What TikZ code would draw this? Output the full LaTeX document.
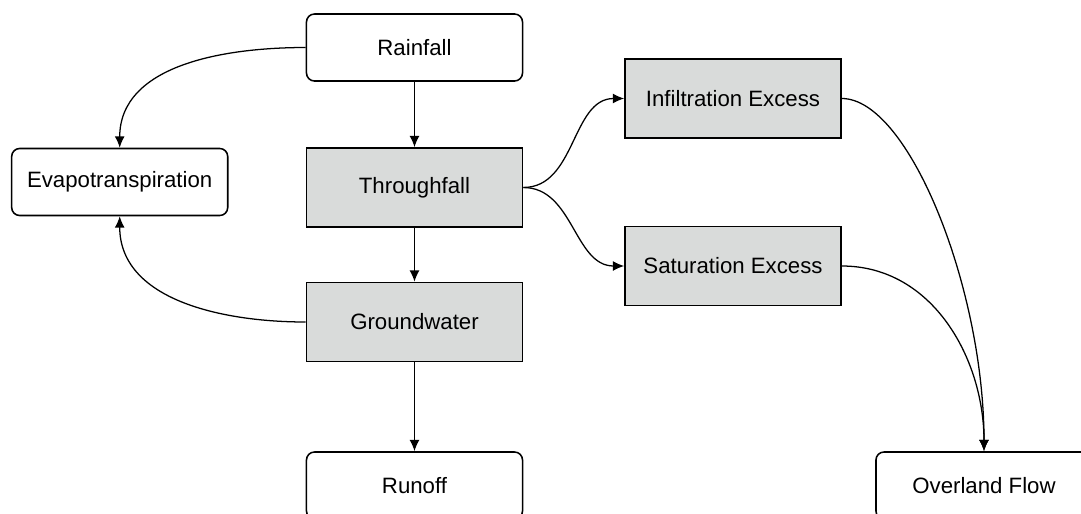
\documentclass[tikz,border=0pt]{standalone}
\usepackage{fontspec}
\setmainfont{Liberation Sans}
\usetikzlibrary{arrows.meta}
\definecolor{boxgray}{HTML}{D9DBDA}

\begin{document}
\begin{tikzpicture}[x=0.025cm, y=-0.025cm,
    whitebox/.style={draw, line width=1.1pt, rounded corners=0.2cm, minimum width=5.4cm,
        minimum height=1.675cm, inner sep=0pt, font=\fontsize{15.8}{18}\selectfont},
    graybox/.style={whitebox, sharp corners, fill=boxgray, minimum height=1.975cm},
    flow/.style={-{Latex[length=8pt,width=7pt]}, line width=0.9pt}]
    \useasboundingbox (0,0) rectangle (1081,514);

    \node [whitebox] (rain) at (414.5,47.5) {Rainfall};
    \node [whitebox] (evap) at (119.7,182) {Evapotranspiration};
    \node [graybox] (through) at (414.5,187.5) {Throughfall};
    \node [graybox] (ground) at (414.5,322) {Groundwater};
    \node [whitebox] (runoff) at (414.5,485.5) {Runoff};
    \node [graybox] (infil) at (733,98.5) {Infiltration Excess};
    \node [graybox] (satur) at (733,266) {Saturation Excess};
    \node [whitebox] (overland) at (984,485.5) {Overland Flow};

    \draw [flow] (rain) -- (through);
    \draw [flow] (through) -- (ground);
    \draw [flow] (ground) -- (runoff);
    \draw [flow] (rain.west) to [out=180,in=90] (evap.north);
    \draw [flow] (ground.west) to [out=180,in=270] (evap.south);
    \draw [flow] (through.east) to [out=0,in=180] (infil.west);
    \draw [flow] (through.east) to [out=0,in=180] (satur.west);
    \draw [flow] (infil.east) to [out=0,in=90,out looseness=0.45,in looseness=1.1] (overland.north);
    \draw [flow] (satur.east) to [out=0,in=90] (overland.north);
\end{tikzpicture}
\end{document}
